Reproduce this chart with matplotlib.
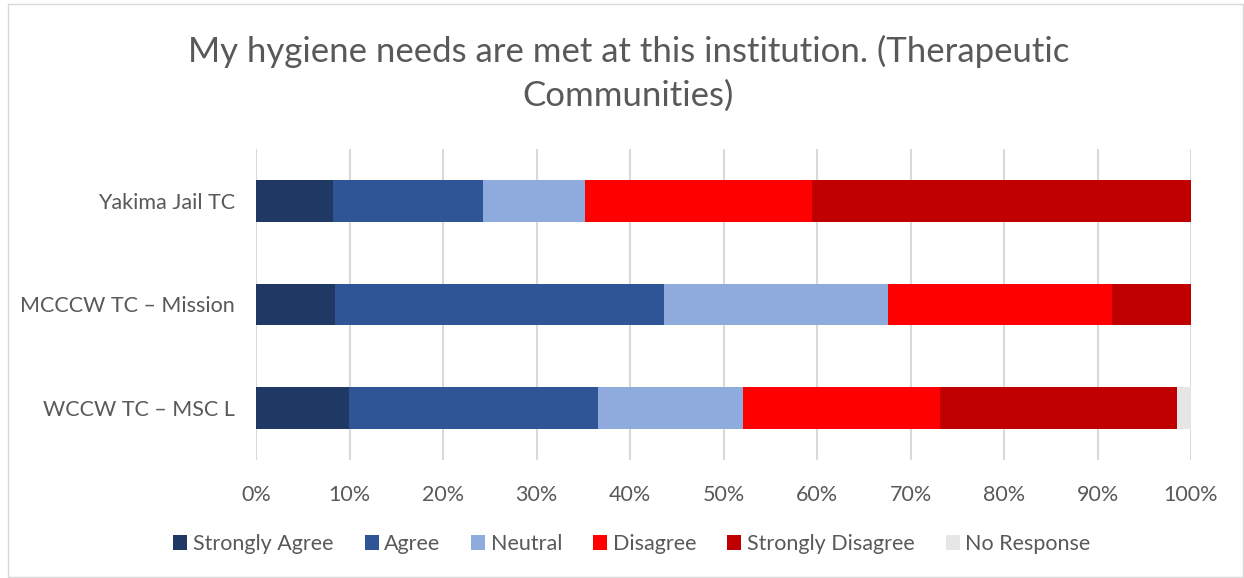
from matplotlib import pyplot as plt
from matplotlib.patches import Rectangle
import numpy as np

plt.rcParams['font.family'] = ['Lato', 'DejaVu Sans']

facilities = ['Yakima Jail TC', 'MCCCW TC \u2013 Mission', 'WCCW TC \u2013 MSC L']
responses = ['Strongly Agree', 'Agree', 'Neutral', 'Disagree', 'Strongly Disagree', 'No Response']
colors = ['#203864', '#2f5597', '#8faadc', '#ff0000', '#c00000', '#e7e6e6']

# percent of respondents, one list per facility
yakima = [8.2, 16.1, 10.9, 24.3, 40.5, 0.0]
mcccw = [8.5, 35.1, 24.0, 23.9, 8.5, 0.0]
wccw = [9.9, 26.7, 15.5, 21.1, 25.3, 1.5]

values = np.array([yakima, mcccw, wccw]) / 100.0

fig = plt.figure(figsize=(12.44, 5.78), dpi=100)
ax = fig.add_axes([256/1244, 1-460/578, (1191-256)/1244, (460-149)/578])

y = np.arange(len(facilities))
left = np.zeros(len(facilities))
for i, name in enumerate(responses):
    ax.barh(y, values[:, i], left=left, height=0.4, color=colors[i], label=name, zorder=3)
    left += values[:, i]

ax.set_xlim(0, 1)
ax.set_ylim(len(facilities) - 0.5, -0.5)
ax.set_yticks(y)
ax.set_yticklabels(facilities)
ax.set_xticks(np.arange(0, 1.01, 0.1))
ax.set_xticklabels([f'{int(t*100)}%' for t in np.arange(0, 1.01, 0.1)])
ax.grid(axis='x', color='#d9d9d9', linewidth=1.5, zorder=0)
for s in ax.spines.values():
    s.set_visible(False)
ax.tick_params(length=0, labelsize=15.5, colors='#595959', pad=15)
ax.tick_params(axis='x', pad=18)

fig.suptitle('My hygiene needs are met at this institution. (Therapeutic\nCommunities)',
             x=0.505, y=0.94, fontsize=25, color='#595959', linespacing=1.45)

ax.legend(loc='center', bbox_to_anchor=(0.508, 0.059), bbox_transform=fig.transFigure,
          ncol=6, frameon=False, fontsize=15.5, labelcolor='#595959',
          handlelength=0.65, handleheight=0.65, handletextpad=0.25, columnspacing=1.45)

fig.patches.append(Rectangle((8/1244, 0.002), 1 - 9/1244, 1 - 5/578, transform=fig.transFigure,
                             fill=False, edgecolor='#d9d9d9', linewidth=1))

plt.savefig('out.png', dpi=100)
